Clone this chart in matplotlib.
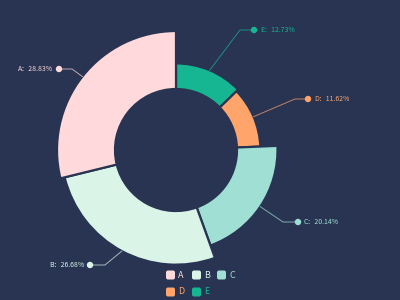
import matplotlib.pyplot as plt
from matplotlib.patches import Wedge, FancyBboxPatch, Circle

# data
names = ['A', 'B', 'C', 'D', 'E']
values = [28.83, 26.68, 20.14, 11.62, 12.73]
colors = ['#ffd9dc', '#daf4e8', '#9fdfd4', '#ffa56c', '#17b692']
bg = '#283452'

# label elbow / dot positions (pixels, y down) - layout only
elbow = {'A': (72, 69), 'B': (105, 265), 'C': (283, 222), 'D': (295, 99), 'E': (240, 30)}
dot = {'A': (59, 69), 'B': (90, 265), 'C': (298, 222), 'D': (308, 99), 'E': (254, 30)}

fig = plt.figure(figsize=(4, 3), dpi=100)
fig.patch.set_facecolor(bg)
ax = fig.add_axes([0, 0, 1, 1])
ax.set_facecolor(bg)
ax.set_xlim(0, 400)
ax.set_ylim(0, 300)
ax.axis('off')

cx, cy = 176, 150
r0, r1 = 61, 119
total = sum(values)
vmax = max(values)

# draw clockwise from top, order E D C B A
order = ['E', 'D', 'C', 'B', 'A']
start = 90.0
fam = ['Noto Sans CJK SC', 'DejaVu Sans']
import math
for n in order:
    i = names.index(n)
    v = values[i]
    sweep = v / total * 360
    end = start - sweep
    r = r0 + (r1 - r0) * v / vmax
    ax.add_patch(Wedge((cx, cy), r, end, start, width=r - r0,
                       facecolor=colors[i], edgecolor=bg, linewidth=1.6))
    mid = math.radians((start + end) / 2)
    sx, sy = cx + r * math.cos(mid), cy + r * math.sin(mid)
    ex, ey = elbow[n][0], 300 - elbow[n][1]
    dx, dy = dot[n][0], 300 - dot[n][1]
    ax.plot([sx, ex, dx], [sy, ey, dy], color=colors[i], lw=0.7, alpha=0.7)
    ax.add_patch(Circle((dx, dy), 3.2, facecolor=colors[i], edgecolor='none'))
    txt = f'{n}：{v:.2f}%'
    if dx < cx:
        ax.text(dx - 6, dy, txt, color=colors[i], fontsize=5, ha='right', va='center', family=fam)
    else:
        ax.text(dx + 6, dy, txt, color=colors[i], fontsize=5, ha='left', va='center', family=fam)
    start = end

# legend
leg_pos = {'A': (166, 275), 'B': (192, 275), 'C': (217, 275), 'D': (166, 292), 'E': (192, 292)}
for n in names:
    i = names.index(n)
    lx, ly = leg_pos[n]
    ly = 300 - ly
    ax.add_patch(FancyBboxPatch((lx + 1, ly - 3.5), 7, 7, boxstyle='round,pad=1,rounding_size=2',
                                facecolor=colors[i], edgecolor='none'))
    ax.text(lx + 12, ly, n, color=colors[i], fontsize=6.5, ha='left', va='center', family=fam)

fig.savefig('out.png', dpi=100, facecolor=bg)
